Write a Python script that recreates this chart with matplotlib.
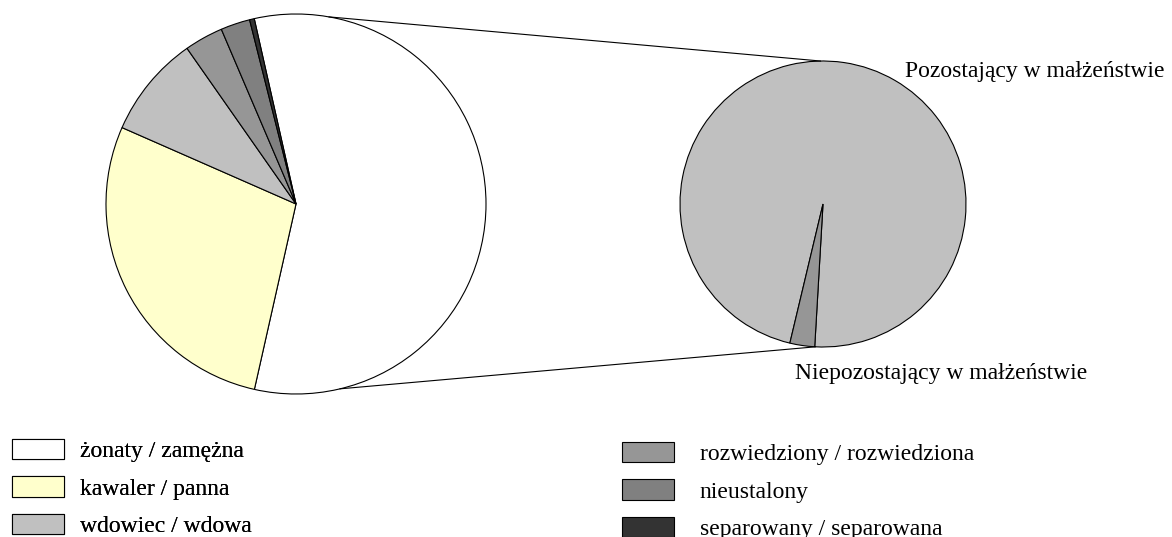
import matplotlib.pyplot as plt
import numpy as np
from matplotlib.patches import Patch

# dane: stan cywilny
categories = ["żonaty / zamężna", "kawaler / panna", "wdowiec / wdowa",
              "rozwiedziony / rozwiedziona", "nieustalony", "separowany / separowana"]
shares = [57.1, 28.1, 8.7, 3.3, 2.5, 0.4]
colors = ["#FFFFFF", "#FFFFCC", "#C0C0C0", "#969696", "#808080", "#333333"]

# drugi wykres (rozbicie)
sub_labels = ["Pozostający w małżeństwie", "Niepozostający w małżeństwie"]
sub_shares = [97.2, 2.8]
sub_colors = ["#C0C0C0", "#969696"]


def main():
    plt.rcParams['font.family'] = ['Liberation Serif', 'DejaVu Serif']
    fig = plt.figure(figsize=(11.72, 5.37), dpi=100)
    # osie w pikselach, y w gore
    ax = fig.add_axes([0, 0, 1, 1])

    c1, r1 = (296, 333), 190
    c2, r2 = (823, 333), 143
    wp = dict(edgecolor="black", linewidth=0.8)

    ax.pie(shares, colors=colors, startangle=102.7, counterclock=False,
           center=c1, radius=r1, wedgeprops=wp, frame=True)
    ax.pie(sub_shares, colors=sub_colors, startangle=256.6, counterclock=False,
           center=c2, radius=r2, wedgeprops=wp, frame=True)
    ax.set_aspect("auto")
    ax.set_xlim(0, 1172)
    ax.set_ylim(0, 537)
    ax.axis("off")

    # linie laczace
    def pt(c, r, a):
        a = np.deg2rad(a)
        return c[0] + r * np.cos(a), c[1] + r * np.sin(a)

    for a1, a2 in [(80, 91), (-76.6, -93)]:
        p1, p2 = pt(c1, r1, a1), pt(c2, r2, a2)
        ax.plot([p1[0], p2[0]], [p1[1], p2[1]], color="black", linewidth=0.8)

    ax.text(905, 537 - 72, sub_labels[0], fontsize=17, ha="left", va="center")
    ax.text(795, 537 - 373, sub_labels[1], fontsize=17, ha="left", va="center")

    # legenda w dwoch kolumnach
    handles = [Patch(facecolor=c, edgecolor="black", linewidth=0.8) for c in colors]
    leg_kw = dict(frameon=False, fontsize=17, handlelength=2.2, handleheight=0.95,
                  labelspacing=0.6, borderpad=0, borderaxespad=0)
    l1 = fig.legend(handles[:3], categories[:3], loc="upper left", handletextpad=0.7,
                    bbox_to_anchor=(12 / 1172, 1 - 439 / 537), **leg_kw)
    fig.legend(handles[3:], categories[3:], loc="upper left", handletextpad=1.1,
               bbox_to_anchor=(622 / 1172, 1 - 442 / 537), **leg_kw)
    fig.add_artist(l1)

    plt.savefig("out.png", dpi=100)


if __name__ == '__main__':
    main()
